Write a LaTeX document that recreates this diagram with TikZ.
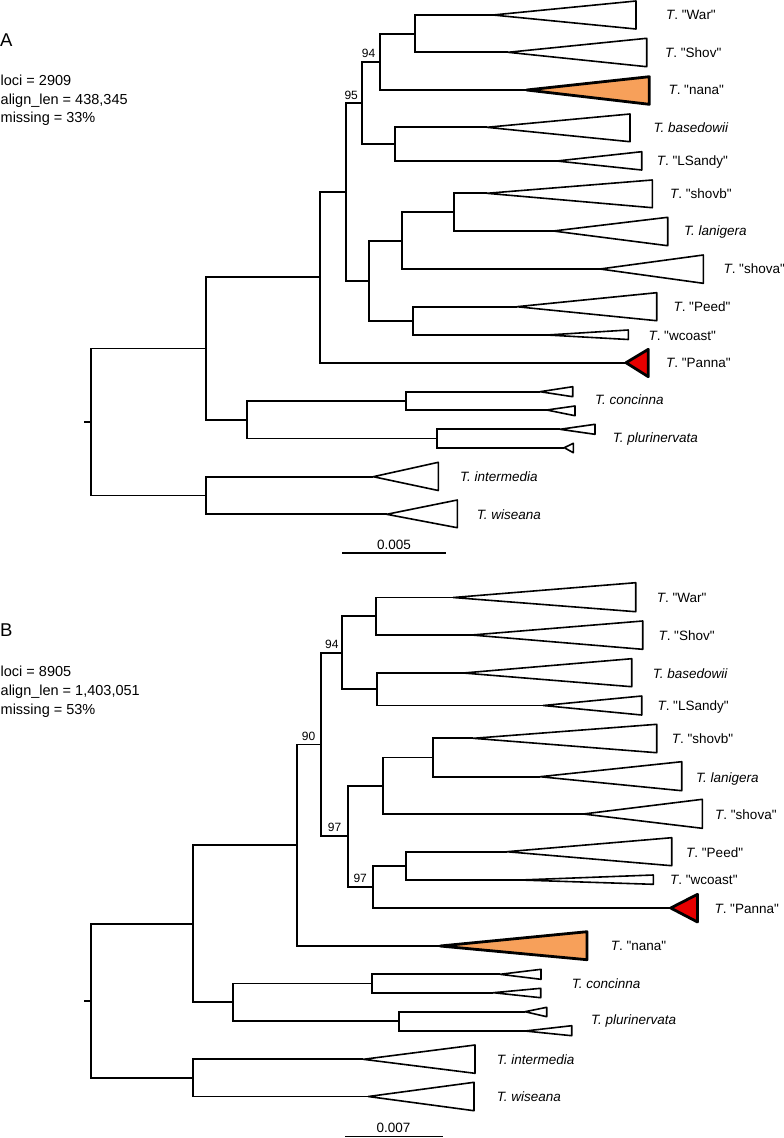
\documentclass[tikz,border=0pt]{standalone}
\usepackage{fontspec}
\setmainfont{Liberation Sans}
\definecolor{nanaor}{RGB}{247,160,90}
\definecolor{pannared}{RGB}{232,0,0}
\newcommand{\tip}[7][tri]{\coordinate (#2) at (#3,#4); \draw[#1] (#2) -- (#5,#6) -- (#5,#7) -- cycle;}
\newcommand{\Tn}{{\itshape T}.}
\newcommand{\qq}{\XeTeXglyph\XeTeXcharglyph34\relax}
\newcommand{\nm}[1]{\Tn\ \qq#1\qq}
\begin{document}
\begin{tikzpicture}[x=1pt,y=-1pt,
  br/.style={line width=1.9pt, line join=miter},
  tri/.style={draw, fill=white, line width=1.6pt, line join=round},
  trinana/.style={tri, fill=nanaor, line width=2.8pt},
  tripanna/.style={tri, fill=pannared, line width=2.8pt},
  lab/.style={anchor=base west, inner sep=0pt, yshift=-4.8pt, font=\fontsize{13.5}{16}\selectfont},
  supp/.style={anchor=base west, inner sep=0pt, font=\fontsize{12}{14}\selectfont},
  stat/.style={anchor=base west, inner sep=0pt, font=\fontsize{14.5}{17}\selectfont},
  panel/.style={anchor=base west, inner sep=0pt, font=\fontsize{18.5}{20}\selectfont},
  scl/.style={anchor=base, inner sep=0pt, font=\fontsize{13.5}{16}\selectfont}]
\useasboundingbox (0,0) rectangle (784,1138);

% ================= Panel A =================
\node[panel] (pA) at (0,46.7) {A};
\node[stat] (sA1) at (0.5,85.5) {loci = 2909};
\node[stat] (sA2) at (0.5,104) {align\_len = 438,345};
\node[stat] (sA3) at (0.5,122.3) {missing = 33\%};

% tips
\tip{aWar}{493}{15}{636}{1}{29}
\tip{aShov}{508}{52.3}{646.7}{38.3}{66.7}
\tip[trinana]{aNana}{526.7}{90}{649.3}{76.7}{104.3}
\tip{aBas}{486.7}{127.3}{630}{114}{141.7}
\tip{aLS}{556.7}{161}{641.7}{151.7}{170}
\tip{aShovb}{486.7}{193.3}{652.3}{180}{207.7}
\tip{aLan}{553.3}{231}{667.7}{217.3}{245.7}
\tip{aShova}{600}{269}{703.3}{255}{283.3}
\tip{aPeed}{516.7}{306.7}{656.7}{292.7}{320.7}
\tip{aWc}{547}{335}{628.3}{330}{339.5}
\tip[tripanna]{aPanna}{626}{362.7}{648.3}{349.3}{376.7}
\tip{aCon1}{540}{391.7}{572.7}{386.7}{396.7}
\tip{aCon2}{546.7}{410}{575}{406}{415.7}
\tip{aPlu1}{560}{429.3}{595}{424.3}{434.3}
\tip{aPlu2}{564.3}{447.7}{573.3}{443.3}{452.7}
\tip{aInt}{373.3}{476.7}{438.3}{462.3}{490.5}
\tip{aWis}{386.7}{514.3}{457.3}{500}{527.7}

% internal nodes
\coordinate (aWS) at (415,33.7);
\coordinate (a94) at (380,61.8);
\coordinate (aBL) at (395,144.2);
\coordinate (a95) at (362,103);
\coordinate (aSL) at (454,212.2);
\coordinate (aSLS) at (401.7,240.6);
\coordinate (aPW) at (413.3,320.9);
\coordinate (aB2) at (369,280.7);
\coordinate (aN1) at (345.7,191.9);
\coordinate (aN0) at (320,277.3);
\coordinate (aCon) at (405.7,400.9);
\coordinate (aPlu) at (437.3,438.5);
\coordinate (aCP) at (246.7,419.7);
\coordinate (aM) at (206,348.5);
\coordinate (aIW) at (206,495.5);
\coordinate (aRoot) at (91,422);
\coordinate (aStub) at (84.3,422);

\draw[br] (aWS) |- (aWar);  \draw[br] (aWS) |- (aShov);
\draw[br] (a94) |- (aWS);   \draw[br] (a94) |- (aNana);
\draw[br] (aBL) |- (aBas);  \draw[br] (aBL) |- (aLS);
\draw[br] (a95) |- (a94);   \draw[br] (a95) |- (aBL);
\draw[br] (aSL) |- (aShovb); \draw[br] (aSL) |- (aLan);
\draw[br] (aSLS) |- (aSL);  \draw[br] (aSLS) |- (aShova);
\draw[br] (aPW) |- (aPeed); \draw[br] (aPW) |- (aWc);
\draw[br] (aB2) |- (aSLS);  \draw[br] (aB2) |- (aPW);
\draw[br] (aN1) |- (a95);   \draw[br] (aN1) |- (aB2);
\draw[br] (aN0) |- (aN1);   \draw[br] (aN0) |- (aPanna);
\draw[br] (aCon) |- (aCon1); \draw[br] (aCon) |- (aCon2);
\draw[br] (aPlu) |- (aPlu1); \draw[br] (aPlu) |- (aPlu2);
\draw[br] (aCP) |- (aCon);  \draw[br] (aCP) |- (aPlu);
\draw[br] (aM) |- (aN0);    \draw[br] (aM) |- (aCP);
\draw[br] (aIW) |- (aInt);  \draw[br] (aIW) |- (aWis);
\draw[br] (aRoot) |- (aM);  \draw[br] (aRoot) |- (aIW);
\draw[br] (aStub) -- (aRoot);

\node[supp] (aS94) at (361.7,57.3) {94};
\node[supp] (aS95) at (344.3,99) {95};

\node[lab] (laWar) at (666,15) {\nm{War}};
\node[lab] (laShov) at (665,52.3) {\nm{Shov}};
\node[lab] (laNana) at (668.3,90) {\nm{nana}};
\node[lab] (laBas) at (653.3,127.3) {\itshape T. basedowii};
\node[lab] (laLS) at (656.7,161) {\nm{LSandy}};
\node[lab] (laShovb) at (670,193.3) {\nm{shovb}};
\node[lab] (laLan) at (684,231) {\itshape T. lanigera};
\node[lab] (laShova) at (723.3,269) {\nm{shova}};
\node[lab] (laPeed) at (673.3,306.7) {\nm{Peed}};
\node[lab] (laWc) at (648.3,335.5) {\nm{wcoast}};
\node[lab] (laPanna) at (666,362.7) {\nm{Panna}};
\node[lab] (laCon) at (595,399.3) {\itshape T. concinna};
\node[lab] (laPlu) at (612.7,437.3) {\itshape T. plurinervata};
\node[lab] (laInt) at (460,476.7) {\itshape T. intermedia};
\node[lab] (laWis) at (476.7,514.3) {\itshape T. wiseana};

\coordinate (sbA1) at (342.3,552.7);
\coordinate (sbA2) at (445.7,552.7);
\draw[br] (sbA1) -- (sbA2);
\node[scl] (sbAt) at (394,549.3) {0.005};

% ================= Panel B =================
\node[panel] (pB) at (0,636) {B};
\node[stat] (sB1) at (0.5,676.7) {loci = 8905};
\node[stat] (sB2) at (0.5,695.7) {align\_len = 1,403,051};
\node[stat] (sB3) at (0.5,714) {missing = 53\%};

\tip{bWar}{453.3}{597.5}{635.7}{582.7}{611.7}
\tip{bShov}{471.7}{635}{642.7}{621}{649.3}
\tip{bBas}{463.3}{673}{631.7}{658.7}{686.7}
\tip{bLS}{543.3}{705.5}{641.7}{696}{715}
\tip{bShovb}{473.3}{738.3}{656.7}{724.3}{752.7}
\tip{bLan}{540}{776.7}{681.7}{761.7}{790.7}
\tip{bShova}{583.3}{814}{702.3}{799.3}{828.3}
\tip{bPeed}{506.7}{851.7}{671.7}{837.7}{865.7}
\tip{bWc}{520}{880}{653.3}{875}{884.3}
\tip[tripanna]{bPanna}{670.7}{908}{697.5}{894.3}{922}
\tip[trinana]{bNana}{440}{946}{587}{931.7}{959.7}
\tip{bCon1}{500}{974.3}{541}{969.3}{979.3}
\tip{bCon2}{493.3}{992.7}{540.7}{988.3}{997.7}
\tip{bPlu1}{525}{1011.7}{546.7}{1007.3}{1016.7}
\tip{bPlu2}{525}{1031}{571.7}{1025.7}{1035.7}
\tip{bInt}{363.3}{1059.3}{475}{1045}{1073.3}
\tip{bWis}{368.3}{1096.5}{474}{1082.3}{1110.7}

\coordinate (bWS) at (375.7,616.3);
\coordinate (bBL) at (376.7,689.2);
\coordinate (b94) at (341.7,652.7);
\coordinate (bSL) at (433.3,757.5);
\coordinate (bSLS) at (383.3,785.7);
\coordinate (bPW) at (406,865.8);
\coordinate (b97b) at (373.3,887);
\coordinate (b97a) at (347.7,836.4);
\coordinate (b90) at (321,744.5);
\coordinate (bN) at (296.7,845.3);
\coordinate (bCon) at (371.7,983.5);
\coordinate (bPlu) at (399,1021.3);
\coordinate (bCP) at (232.7,1002.4);
\coordinate (bM) at (193.3,923.8);
\coordinate (bIW) at (193.3,1077.9);
\coordinate (bRoot) at (91,1000.9);
\coordinate (bStub) at (84.3,1000.9);

\draw[br] (bWS) |- (bWar);  \draw[br] (bWS) |- (bShov);
\draw[br] (bBL) |- (bBas);  \draw[br] (bBL) |- (bLS);
\draw[br] (b94) |- (bWS);   \draw[br] (b94) |- (bBL);
\draw[br] (bSL) |- (bShovb); \draw[br] (bSL) |- (bLan);
\draw[br] (bSLS) |- (bSL);  \draw[br] (bSLS) |- (bShova);
\draw[br] (bPW) |- (bPeed); \draw[br] (bPW) |- (bWc);
\draw[br] (b97b) |- (bPW);  \draw[br] (b97b) |- (bPanna);
\draw[br] (b97a) |- (bSLS); \draw[br] (b97a) |- (b97b);
\draw[br] (b90) |- (b94);   \draw[br] (b90) |- (b97a);
\draw[br] (bN) |- (b90);    \draw[br] (bN) |- (bNana);
\draw[br] (bCon) |- (bCon1); \draw[br] (bCon) |- (bCon2);
\draw[br] (bPlu) |- (bPlu1); \draw[br] (bPlu) |- (bPlu2);
\draw[br] (bCP) |- (bCon);  \draw[br] (bCP) |- (bPlu);
\draw[br] (bM) |- (bN);     \draw[br] (bM) |- (bCP);
\draw[br] (bIW) |- (bInt);  \draw[br] (bIW) |- (bWis);
\draw[br] (bRoot) |- (bM);  \draw[br] (bRoot) |- (bIW);
\draw[br] (bStub) -- (bRoot);

\node[supp] (bS94) at (325,648.3) {94};
\node[supp] (bS90) at (301.7,740) {90};
\node[supp] (bS97a) at (327.7,831.7) {97};
\node[supp] (bS97b) at (353.3,882.3) {97};

\node[lab] (lbWar) at (656.7,597.5) {\nm{War}};
\node[lab] (lbShov) at (658.3,635.5) {\nm{Shov}};
\node[lab] (lbBas) at (652.7,673.3) {\itshape T. basedowii};
\node[lab] (lbLS) at (657.3,705.3) {\nm{LSandy}};
\node[lab] (lbShovb) at (671.7,739) {\nm{shovb}};
\node[lab] (lbLan) at (696,777.5) {\itshape T. lanigera};
\node[lab] (lbShova) at (715,814.5) {\nm{shova}};
\node[lab] (lbPeed) at (686,852.5) {\nm{Peed}};
\node[lab] (lbWc) at (670,880) {\nm{wcoast}};
\node[lab] (lbPanna) at (714.3,908.3) {\nm{Panna}};
\node[lab] (lbNana) at (610.7,946) {\nm{nana}};
\node[lab] (lbCon) at (571.7,984) {\itshape T. concinna};
\node[lab] (lbPlu) at (591,1019.3) {\itshape T. plurinervata};
\node[lab] (lbInt) at (496.7,1060) {\itshape T. intermedia};
\node[lab] (lbWis) at (496.7,1096.7) {\itshape T. wiseana};

\coordinate (sbB1) at (345,1136.5);
\coordinate (sbB2) at (442.5,1136.5);
\draw[br] (sbB1) -- (sbB2);
\node[scl] (sbBt) at (393.5,1132.3) {0.007};
\end{tikzpicture}
\end{document}
